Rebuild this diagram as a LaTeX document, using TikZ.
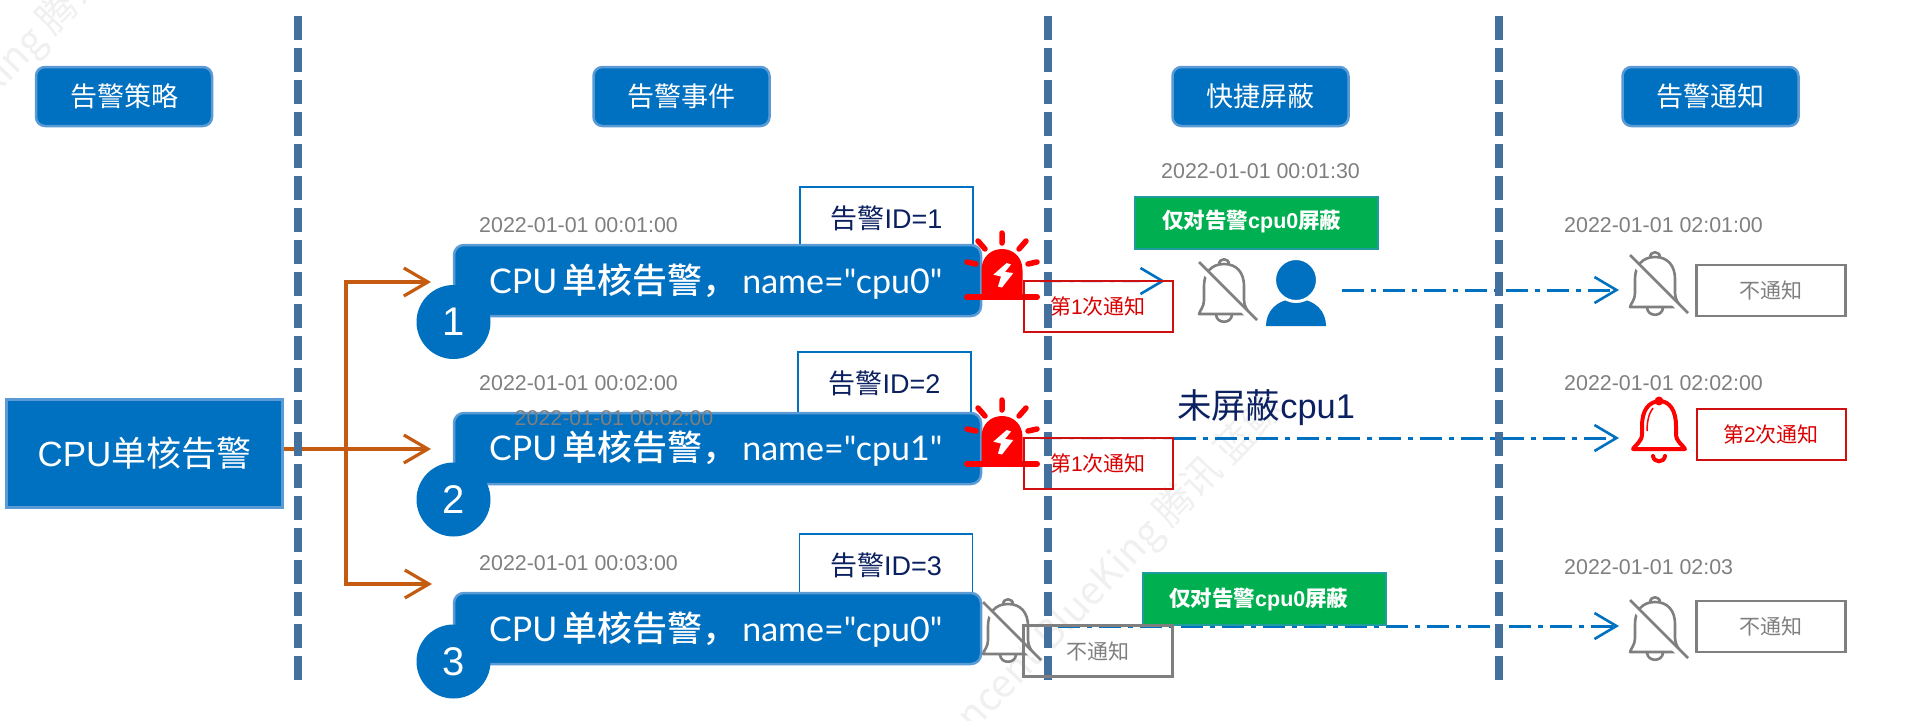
\documentclass[tikz,border=0pt]{standalone}
\usepackage{fontspec}
\setmainfont{Liberation Sans}
\newfontfamily\cjk{Noto Sans CJK SC}
\newfontfamily\cjkm{Noto Sans CJK SC Medium}
\newfontfamily\lato[Ligatures=TeXOff]{Lato}
\usetikzlibrary{arrows.meta,calc}
\definecolor{blueF}{HTML}{0070C0}
\definecolor{blueB}{HTML}{5B9BD5}
\definecolor{divc}{HTML}{44709D}
\definecolor{navy}{HTML}{0B2060}
\definecolor{graytx}{HTML}{7F7F7F}
\definecolor{orangeL}{HTML}{C55A11}
\definecolor{greenF}{HTML}{00B050}
\definecolor{greenB}{HTML}{1F9C9C}
\definecolor{redB}{HTML}{D01010}
\definecolor{faint}{HTML}{DCE6EE}
\newcommand\fsz[1]{\fontsize{#1pt}{#1pt}\selectfont}
\newcommand\pilltxt[1]{{\lato\fsz{34}CPU}\hspace{5pt}{\cjkm\fsz{35}单核告警，}\hspace{5pt}{\lato\fsz{34}name="cpu#1"}}
\tikzset{
 hdr/.style={draw=blueB,fill=blueF,line width=2.5pt,rounded corners=9pt,minimum width=176pt,minimum height=59pt,text=white,inner sep=0pt,font=\fsz{27}\cjk},
 mainbox/.style={draw=blueB,fill=blueF,line width=2.5pt,minimum width=276pt,minimum height=108pt,text=white,inner sep=0pt},
 idbox/.style={draw=blueF,fill=white,line width=1.6pt,minimum width=173pt,minimum height=62pt,inner sep=0pt,text=navy},
 pill/.style={draw=blueB,fill=blueF,line width=2.5pt,rounded corners=10pt,minimum width=527pt,minimum height=71pt,inner sep=0pt},
 numc/.style={circle,fill=blueF,minimum size=74pt,inner sep=0pt,text=white,font=\fsz{40}},
 stamp/.style={anchor=west,inner sep=0pt,text=graytx,font=\fsz{21.4}},
 pilltext/.style={anchor=base west,inner sep=0pt,text=white},
 greenbox/.style={draw=greenB,fill=greenF,line width=2pt,minimum width=243pt,minimum height=52pt,inner sep=0pt},
 greentext/.style={anchor=west,inner sep=0pt,text=white,font=\fsz{21.5}\bfseries},
 redbox/.style={draw=redB,line width=2pt,minimum width=149pt,minimum height=51pt,inner sep=0pt,text=red!85!black,font=\fsz{21}},
 graybox/.style={draw=graytx,line width=2.2pt,minimum width=149pt,minimum height=51pt,inner sep=0pt,text=graytx,font=\fsz{21}\cjk},
 divider/.style={draw=divc,line width=7.5pt,dash pattern=on 24pt off 8pt},
 olink/.style={draw=orangeL,line width=3.5pt,-{Straight Barb[length=24pt,width=28pt,line width=3.2pt]}},
 dashdot/.style={draw=blueF,line width=3pt,dash pattern=on 22pt off 7pt on 5pt off 7pt,-{Straight Barb[length=22pt,width=26pt,line width=2.6pt]}},
 fainted/.style={draw=faint,line width=3pt,dash pattern=on 22pt off 7pt on 5pt off 7pt},
 barb/.style={draw=blueF,line width=2.6pt,-{Straight Barb[length=22pt,width=26pt,line width=2.6pt]}},
 wmark/.style={text=black!6,font=\fsz{39}\cjk,rotate=46,inner sep=0pt,anchor=east},
 redbell/.pic={
  \draw[draw=red,line width=4pt,line join=round,line cap=round]
   (29,5) .. controls (16,5) and (10,15) .. (10,30) -- (10,38)
   .. controls (10,46) and (3,49) .. (1,53) -- (53,53)
   .. controls (51,49) and (44,46) .. (44,38) -- (44,30)
   .. controls (44,15) and (38,5) .. (27,5);
  \fill[red] (27,5) circle (4.5pt);
  \draw[red,line width=4pt,line cap=round] (21,60) .. controls (22,67) and (32,67) .. (33,60);
  \draw[red,line width=1.5pt] (15,35) .. controls (15,25) and (17,17) .. (21,12);
 },
 mutedbell/.pic={
  \draw[graytx,line width=2.6pt,line join=round]
   (25,6) .. controls (12,6) and (5,15) .. (5,28) -- (5,42)
   .. controls (5,49) and (1,52) .. (0,56) -- (50,56)
   .. controls (49,52) and (45,49) .. (45,42) -- (45,28)
   .. controls (45,15) and (38,6) .. (25,6)
   (20,6.5) .. controls (20,-0.5) and (30,-0.5) .. (30,6.5)
   (17,57) .. controls (18,66) and (32,66) .. (33,57);
  \draw[white,line width=6pt] (5,13) -- (50,58);
  \draw[graytx,line width=2.6pt] (0,4) -- (58,62);
 },
 alarm/.pic={
  \fill[red] (-20.5,0) -- (-20.5,-27) .. controls (-20.5,-40) and (-11,-48) .. (0,-48)
    .. controls (11,-48) and (20.5,-40) .. (20.5,-27) -- (20.5,0) -- cycle;
  \fill[white] (4.7,-34) -- (-8.7,-22.3) -- (-1,-20.5) -- (-4,-10.5) -- (0,-9.5) -- (11.3,-24) -- (3,-25) -- (9,-32.5) -- cycle;
  \draw[red,line width=6pt,line cap=round] (-35,0) -- (35,0);
  \draw[red,line width=5.5pt,line cap=round]
    (0,-64) -- (0,-54) (-24,-56) -- (-17,-48) (24,-56) -- (17,-48)
    (-35,-35) -- (-26,-33) (35,-35) -- (26,-33);
 },
}
\begin{document}
\begin{tikzpicture}[x=1pt,y=-1pt]
\useasboundingbox (0,0) rectangle (1932,720);
% watermark
\begin{scope}
\clip (0,0) rectangle (1932,720);
\node[wmark] (wm1) at (160,-90) {Tencent BlueKing 腾讯 蓝鲸};
\node[wmark] (wm2) at (1277,402) {Tencent BlueKing 腾讯 蓝鲸};
\end{scope}
% source box and orange links
\node[mainbox] (main) at (144.5,453.5) {\fsz{35}CPU{\cjk 单核告警}};
\coordinate (trunk) at (346,449);
\coordinate (mainout) at (main.east |- trunk);
\coordinate (t1) at (431,282);
\coordinate (t2) at (431,449);
\coordinate (t3) at (432,584);
\draw[olink] (mainout) -- (t2);
\draw[olink] (trunk) |- (t1);
\draw[olink] (trunk) |- (t3);
% blue links
\coordinate (al1out) at (1040,281);
\coordinate (m1tip) at (1165,281);
\coordinate (m1pre) at (1140,281);
\draw[fainted] (al1out) -- (m1pre);
\draw[barb] (m1pre) -- (m1tip);
\coordinate (u1out) at (1342,290);
\coordinate (n1tip) at (1619,290);
\draw[dashdot] (u1out) -- (n1tip);
\coordinate (al2out) at (1040,438);
\coordinate (b2edge) at (1174,438);
\coordinate (n2tip) at (1619,438);
\draw[fainted] (al2out) -- (b2edge);
\draw[dashdot] (b2edge) -- (n2tip);
\coordinate (b3start) at (1058,626);
\coordinate (n3tip) at (1619,626);
\draw[dashdot] (b3start) -- (n3tip);
% dividers
\foreach \nm/\dx in {d1/298,d2/1048,d3/1499}{
  \coordinate (\nm top) at (\dx,16);
  \coordinate (\nm bot) at (\dx,680);
  \draw[divider] (\nm top) -- (\nm bot);
}
% headers
\node[hdr] (h1) at (124,96.5) {告警策略};
\node[hdr] (h2) at (681.5,96.5) {告警事件};
\node[hdr] (h3) at (1260.5,96.5) {快捷屏蔽};
\node[hdr] (h4) at (1710.5,96.5) {告警通知};
% id boxes
\node[idbox,font=\fsz{27}] (id1) at (886.5,218) {{\cjk 告警}ID=1};
\node[idbox,font=\fsz{27}] (id2) at (884.5,383) {{\cjk 告警}ID=2};
\node[idbox,font=\fsz{27}] (id3) at (886,565) {{\cjk 告警}ID=3};
% pills
\node[pill] (p1) at (717.5,280.5) {};
\node[numc] (c1) at (453.5,322) {1};
\node[pilltext] (tx1) at (489,293) {\pilltxt{0}};
\node[pill] (p2) at (717.5,448.5) {};
\node[numc] (c2) at (453.5,499.5) {2};
\node[pilltext] (tx2) at (489,460) {\pilltxt{1}};
\node[pill] (p3) at (717.5,628.5) {};
\node[numc] (c3) at (453.5,661.5) {3};
\node[pilltext] (tx3) at (489,641) {\pilltxt{0}};
% stamps
\node[stamp] (s1) at (479,225) {2022-01-01 00:01:00};
\node[stamp] (s2) at (479,383) {2022-01-01 00:02:00};
\node[stamp] (s2b) at (514.5,418) {2022-01-01 00:02:00};
\node[stamp] (s3) at (479,563) {2022-01-01 00:03:00};
\node[stamp] (s4) at (1161,171) {2022-01-01 00:01:30};
\node[stamp] (s5) at (1564,225) {2022-01-01 02:01:00};
\node[stamp] (s6) at (1564,383) {2022-01-01 02:02:00};
\node[stamp] (s7) at (1564,567) {2022-01-01 02:03};
% green boxes
\node[greenbox] (g1) at (1256.5,222.5) {};
\node[greentext] (gt1) at (1162,222) {{\cjk\bfseries 仅对告警}cpu0{\cjk\bfseries 屏蔽}};
\node[greenbox] (g2) at (1264,599) {};
\node[greentext] (gt2) at (1169,599) {{\cjk\bfseries 仅对告警}cpu0{\cjk\bfseries 屏蔽}};
% alarms
\pic at (1002,297) {alarm};
\pic at (1002,464) {alarm};
% boxes after events
\node[redbox] (r1) at (1098,306.5) {{\cjk 第}1{\cjk 次通知}};
\node[redbox] (r2) at (1098,463.5) {{\cjk 第}1{\cjk 次通知}};
\pic at (983,598) {mutedbell};
\node[graybox] (r3) at (1098,651) {不通知};
% user + bell
\pic at (1199,258) {mutedbell};
\fill[blueF] (1266,326) .. controls (1266,312) and (1276,299) .. (1296,299)
  .. controls (1316,299) and (1326,312) .. (1326,326) -- cycle;
\node[circle,fill=blueF,draw=white,line width=3pt,minimum size=43pt,inner sep=0pt] (head) at (1296,280) {};
% right column
\pic at (1630,251) {mutedbell};
\node[graybox] (n1) at (1771,290.5) {不通知};
\pic at (1632,396) {redbell};
\node[redbox] (n2) at (1771,434.5) {{\cjk 第}2{\cjk 次通知}};
\pic at (1630,596) {mutedbell};
\node[graybox] (n3) at (1771,626.5) {不通知};
% big label
\node[inner sep=0pt,text=navy,font=\fsz{34.4}] (lbl) at (1266,408) {{\cjk 未屏蔽}cpu1};
\end{tikzpicture}
\end{document}
